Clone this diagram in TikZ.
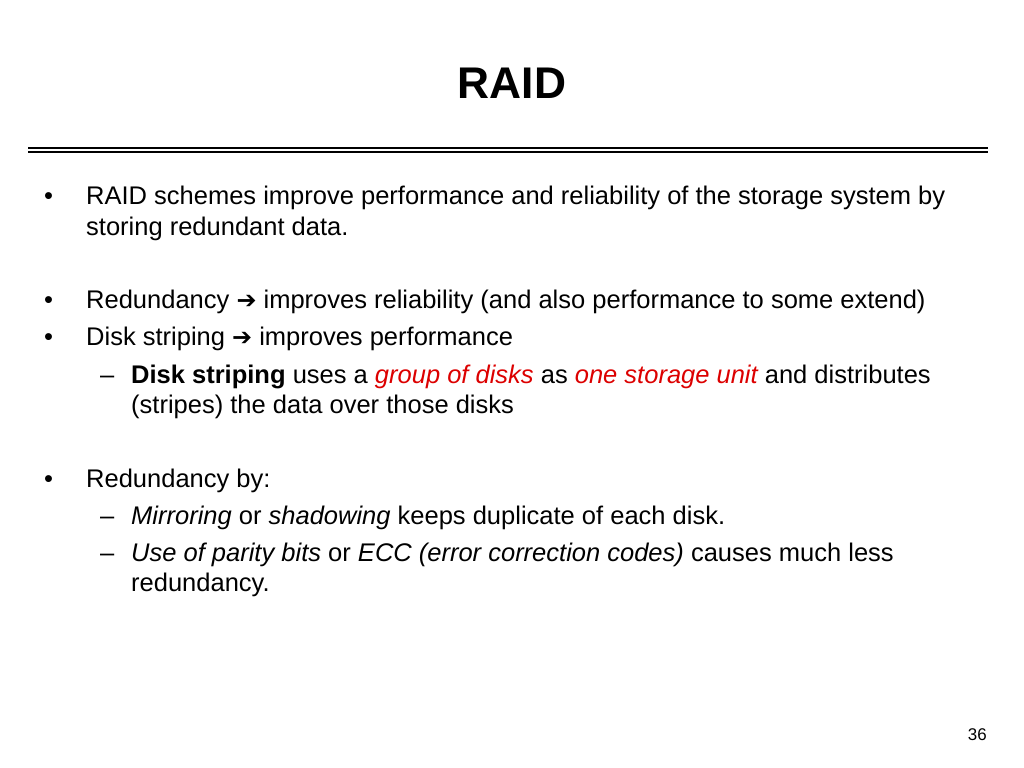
\documentclass[tikz,border=0pt]{standalone}
\usepackage{fontspec}
\setmainfont{Liberation Sans}
\newfontfamily\arrfont{DejaVu Sans}
\definecolor{hl}{RGB}{220,0,0}
\newcommand{\ar}{{\arrfont\fontsize{24}{24}\selectfont ➔}}
\begin{document}
\begin{tikzpicture}[x=1bp,y=-1bp,
  txt/.style={anchor=base west,inner sep=0pt,font=\fontsize{25.6}{30}\selectfont},
  rl/.style={line width=1.2bp,black}]
\useasboundingbox (0,0) rectangle (1024,768);
\node[anchor=base,inner sep=0pt,font=\fontsize{44.5}{50}\selectfont\bfseries] (title) at (512,99) {RAID};
\coordinate (l1) at (28,148); \coordinate (r1) at (988,148);
\coordinate (l2) at (28,152); \coordinate (r2) at (988,152);
\draw[rl] (l1) -- (r1); \draw[rl] (l2) -- (r2);
\node[txt] (b1) at (44,204) {•};
\node[txt] (t1) at (86,204) {RAID schemes improve performance and reliability of the storage system by};
\node[txt] (t1b) at (86,235) {storing redundant data.};
\node[txt] (b2) at (44,308) {•};
\node[txt] (t2) at (86,308) {Redundancy \ar\ improves reliability (and also performance to some extend)};
\node[txt] (b3) at (44,345) {•};
\node[txt] (t3) at (86,345) {Disk striping \ar\ improves performance};
\node[txt] (d1) at (100,383) {–};
\node[txt] (t4) at (131,383) {\textbf{Disk striping} uses a \textcolor{hl}{\itshape group of disks} as \textcolor{hl}{\itshape one storage unit} and distributes};
\node[txt] (t4b) at (131,413) {(stripes) the data over those disks};
\node[txt] (b4) at (44,487) {•};
\node[txt] (t5) at (86,487) {Redundancy by:};
\node[txt] (d2) at (100,524) {–};
\node[txt] (t6) at (131,524) {\itshape Mirroring \upshape or \itshape shadowing \upshape keeps duplicate of each disk.};
\node[txt] (d3) at (100,561) {–};
\node[txt] (t7) at (131,561) {\itshape Use of parity bits \upshape or \itshape ECC (error correction codes) \upshape causes much less};
\node[txt] (t7b) at (131,591) {redundancy.};
\node[anchor=base east,inner sep=0pt,font=\fontsize{17}{20}\selectfont] (pg) at (987,740) {36};
\end{tikzpicture}
\end{document}
